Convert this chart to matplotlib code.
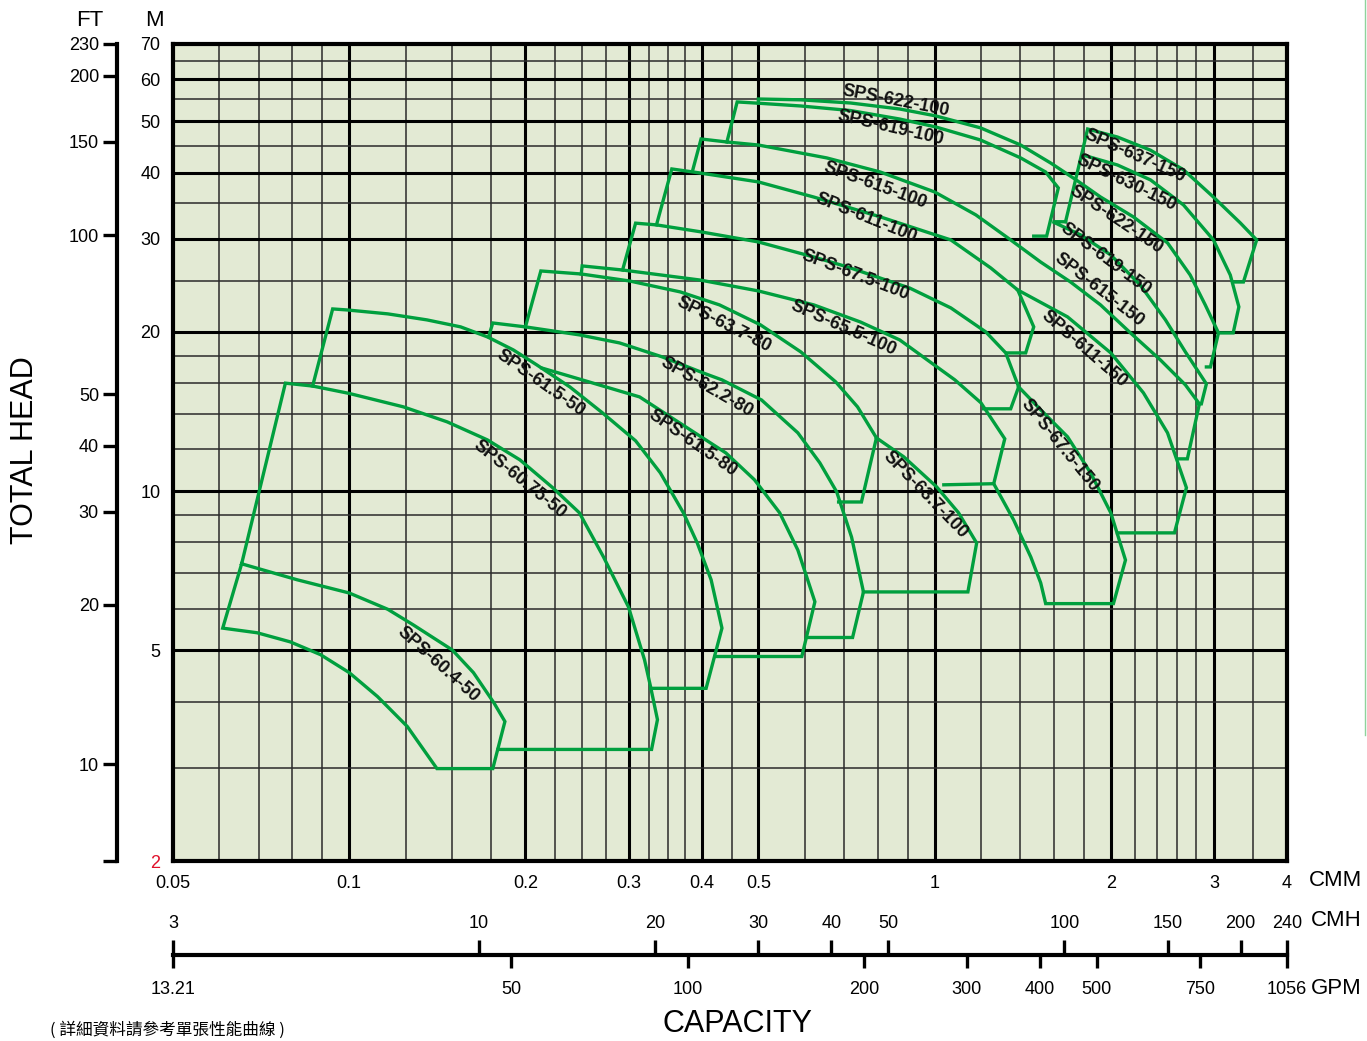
import matplotlib
matplotlib.use('Agg')
import matplotlib.pyplot as plt
from matplotlib.lines import Line2D

plt.rcParams['font.family'] = ['Liberation Sans', 'DejaVu Sans']

# --- axis scales -------------------------------------------------------
cmm_ticks = [0.05, 0.1, 0.2, 0.3, 0.4, 0.5, 1, 2, 3, 4]
cmm_labels = ['0.05', '0.1', '0.2', '0.3', '0.4', '0.5', '1', '2', '3', '4']
cmm_grid_major = [0.1, 0.2, 0.3, 0.4, 0.5, 1, 2, 3]
cmm_grid_minor = [0.06, 0.07, 0.08, 0.09, 0.125, 0.15, 0.175, 0.225, 0.25, 0.275,
                  0.325, 0.35, 0.375, 0.45, 0.6, 0.7, 0.8, 0.9, 1.2, 1.4, 1.6, 1.8,
                  2.2, 2.4, 2.6, 2.8, 3.5]
head_ticks = [2, 5, 10, 20, 30, 40, 50, 60, 70]
head_grid_major = [5, 10, 20, 30, 40, 50, 60]
head_grid_minor = [3, 4, 6, 7, 8, 9, 12, 14, 16, 18, 25, 35, 45, 55, 65]
ft_ticks = [10, 20, 30, 40, 50, 100, 150, 200]
cmh_ticks = [3, 10, 20, 30, 40, 50, 100, 150, 200, 240]
gpm_ticks = [50, 100, 200, 300, 400, 500, 750]

# --- pump outlines: capacity (CMM) and head (M) ------------------------
sps_60_4_50_q = [0.0655, 0.0815, 0.100, 0.1164, 0.1286, 0.150, 0.163, 0.1767, 0.1845,
                 0.1759, 0.1412, 0.1257, 0.1118, 0.100, 0.0893, 0.0793, 0.0696, 0.0608, 0.0655]
sps_60_4_50_h = [7.29, 6.80, 6.42, 5.98, 5.59, 5.01, 4.54, 3.98, 3.67,
                 2.99, 2.99, 3.59, 4.09, 4.54, 4.91, 5.19, 5.40, 5.51, 7.29]

sps_60_75_50_q = [0.0655, 0.0778, 0.0866, 0.100, 0.1238, 0.147, 0.1722, 0.1957, 0.2227,
                  0.2473, 0.2719, 0.300, 0.3195, 0.3272, 0.3362, 0.3285, 0.1796]
sps_60_75_50_h = [7.29, 16.0, 15.8, 15.3, 14.43, 13.52, 12.5, 11.46, 10.15,
                  9.1, 7.51, 6.04, 4.80, 4.27, 3.70, 3.25, 3.25]

sps_61_5_50_q = [0.0866, 0.0937, 0.0993, 0.1164, 0.1358, 0.155, 0.1722, 0.1907, 0.2092,
                 0.2382, 0.2708, 0.3085, 0.340, 0.3723, 0.3932, 0.4152, 0.4333, 0.4071, 0.3272]
sps_61_5_50_h = [15.8, 22.1, 22.0, 21.63, 21.07, 20.44, 19.57, 18.49, 17.32,
                 15.74, 14.06, 12.45, 10.83, 9.1, 7.98, 6.80, 5.51, 4.24, 4.24]

sps_61_5_80_q = [0.2133, 0.25, 0.3134, 0.3829, 0.44, 0.4923, 0.5438, 0.584, 0.6245, 0.5932, 0.4217]
sps_61_5_80_h = [17.09, 16.23, 15.07, 13.05, 11.81, 10.51, 9.1, 7.74, 6.18, 4.87, 4.87]

sps_62_2_80_q = [0.1730, 0.1759, 0.200, 0.2473, 0.2897, 0.3429, 0.4023, 0.4333, 0.5063,
                 0.584, 0.6368, 0.6804, 0.7214, 0.756, 0.7243, 0.605]
sps_62_2_80_h = [19.57, 20.79, 20.44, 19.74, 19.06, 17.93, 16.73, 16.23, 14.87,
                 12.89, 11.31, 9.97, 8.19, 6.45, 5.29, 5.29]

sps_63_7_80_q = [0.200, 0.2125, 0.2491, 0.3012, 0.3677, 0.4292, 0.5042, 0.5909, 0.6777,
                 0.7386, 0.7955, 0.750, 0.6856]
sps_63_7_80_h = [20.44, 26.07, 25.73, 24.96, 23.8, 22.49, 20.62, 18.33, 16.09,
                 14.43, 12.61, 9.54, 9.54]

sps_63_7_100_q = [0.7955, 0.886, 1.008, 1.099, 1.18, 1.14, 0.756]
sps_63_7_100_h = [12.61, 11.61, 10.19, 9.1, 7.98, 6.45, 6.45]

sps_65_5_100_q = [0.2491, 0.25, 0.2931, 0.3976, 0.500, 0.622, 0.747, 0.872, 1.083,
                  1.20, 1.318, 1.262, 1.037]
sps_65_5_100_h = [25.73, 26.65, 26.18, 25.06, 23.9, 22.49, 20.88, 19.31, 16.23,
                  14.69, 12.56, 10.33, 10.28]

sps_67_5_100_q = [0.2931, 0.3085, 0.3349, 0.3993, 0.500, 0.622, 0.710, 0.907, 1.066,
                  1.223, 1.323, 1.392, 1.349, 1.213]
sps_67_5_100_h = [26.18, 32.1, 31.86, 30.9, 29.58, 27.7, 26.53, 24.2, 22.2,
                  20.0, 18.25, 15.74, 14.31, 14.31]

sps_67_5_150_q = [1.392, 1.518, 1.687, 1.847, 2.0, 2.119, 2.021, 1.548, 1.518, 1.46, 1.365, 1.262]
sps_67_5_150_h = [15.74, 14.25, 12.67, 10.83, 9.1, 7.41, 6.13, 6.13, 6.71, 7.51, 8.82, 10.33]

sps_611_100_q = [0.3349, 0.3557, 0.3976, 0.500, 0.622, 0.8078, 1.066, 1.247, 1.387, 1.477, 1.431, 1.333]
sps_611_100_h = [31.86, 40.64, 39.93, 38.41, 35.96, 32.99, 29.84, 26.42, 24.0, 20.44, 18.25, 18.25]

sps_611_150_q = [1.387, 1.687, 2.0, 2.274, 2.5, 2.693, 2.569, 2.053]
sps_611_150_h = [24.0, 21.35, 18.25, 15.34, 12.89, 10.15, 8.34, 8.34]

sps_615_100_q = [0.3859, 0.3991, 0.4418, 0.500, 0.6542, 0.8078, 1.0, 1.176, 1.349, 1.518,
                 1.707, 1.921, 2.161, 2.431, 2.682, 2.834, 2.703, 2.6]
sps_615_100_h = [40.29, 46.3, 45.7, 45.1, 42.64, 40.1, 36.77, 33.28, 29.84, 27.1,
                 24.85, 22.49, 19.91, 17.7, 15.88, 14.62, 11.51, 11.51]

sps_619_100_q = [0.4418, 0.46, 0.5, 0.5909, 0.7186, 0.872, 1.004, 1.198, 1.403, 1.548, 1.627, 1.554, 1.477]
sps_619_100_h = [45.7, 54.4, 54.1, 53.45, 52.4, 50.5, 48.8, 46.1, 42.64, 40.1, 37.42, 30.34, 30.34]

sps_619_150_q = [1.674, 1.591, 1.776, 2.0, 2.247, 2.48, 2.682, 2.913, 2.856, 2.81]
sps_619_150_h = [32.3, 32.3, 30.5, 27.95, 24.5, 21.07, 18.33, 15.95, 14.62, 14.62]

sps_622_100_q = [0.5, 0.5, 0.5909, 0.7186, 0.872, 1.004, 1.198, 1.403, 1.579, 1.745, 1.921,
                 2.186, 2.5, 2.733, 2.9, 3.055, 2.96, 2.913]
sps_622_100_h = [54.1, 55.1, 54.9, 54.15, 52.75, 51.2, 48.6, 45.1, 41.7, 38.75, 35.97,
                 32.99, 29.46, 25.62, 22.49, 19.91, 17.17, 17.17]

sps_630_150_q = [1.79, 2.053, 2.338, 2.662, 2.995, 3.2, 3.31, 3.237, 3.055]
sps_630_150_h = [43.2, 41.35, 38.75, 34.75, 29.84, 25.62, 22.3, 19.91, 19.91]

sps_637_150_q = [1.674, 1.826, 2.053, 2.338, 2.662, 2.995, 3.33, 3.55, 3.37, 3.237]
sps_637_150_h = [32.3, 48.35, 46.7, 44.1, 40.5, 35.96, 32.12, 29.84, 24.85, 24.85]

outlines = [
    (sps_60_4_50_q, sps_60_4_50_h), (sps_60_75_50_q, sps_60_75_50_h),
    (sps_61_5_50_q, sps_61_5_50_h), (sps_61_5_80_q, sps_61_5_80_h),
    (sps_62_2_80_q, sps_62_2_80_h), (sps_63_7_80_q, sps_63_7_80_h),
    (sps_63_7_100_q, sps_63_7_100_h), (sps_65_5_100_q, sps_65_5_100_h),
    (sps_67_5_100_q, sps_67_5_100_h), (sps_67_5_150_q, sps_67_5_150_h),
    (sps_611_100_q, sps_611_100_h), (sps_611_150_q, sps_611_150_h),
    (sps_615_100_q, sps_615_100_h), (sps_619_100_q, sps_619_100_h),
    (sps_619_150_q, sps_619_150_h), (sps_622_100_q, sps_622_100_h),
    (sps_630_150_q, sps_630_150_h), (sps_637_150_q, sps_637_150_h),
]

# --- model names, where they sit (CMM, M) and their slant -------------
label_names = ['SPS-60.4-50', 'SPS-60.75-50', 'SPS-61.5-50', 'SPS-61.5-80', 'SPS-62.2-80',
               'SPS-63.7-80', 'SPS-65.5-100', 'SPS-67.5-100', 'SPS-611-100', 'SPS-615-100',
               'SPS-619-100', 'SPS-622-100', 'SPS-637-150', 'SPS-630-150', 'SPS-622-150',
               'SPS-619-150', 'SPS-615-150', 'SPS-611-150', 'SPS-67.5-150', 'SPS-63.7-100']
label_q = [0.1418, 0.1957, 0.2125, 0.3859, 0.4087, 0.4367, 0.6987, 0.7329, 0.765, 0.7924,
           0.842, 0.860, 2.20, 2.13, 2.04, 1.96, 1.91, 1.80, 1.634, 0.963]
label_h = [4.7, 10.51, 16.0, 12.3, 15.74, 20.62, 20.35, 25.62, 32.85, 37.9,
           48.6, 54.6, 43.0, 38.3, 32.6, 27.4, 24.0, 18.6, 12.2, 9.83]
label_rot = [-42, -39, -35, -35, -30, -27, -24, -21, -22, -20,
             -13, -11, -24, -26, -34, -37, -38, -41, -51, -46]

M_TO_FT = 1 / 0.3048
CMM_TO_CMH = 60.0
CMM_TO_GPM = 264.172

GREEN = '#009f3e'
W, H = 1367, 1041

fig = plt.figure(figsize=(W / 100, H / 100), dpi=100)

# main chart
ax = fig.add_axes([173 / W, 1 - 861 / H, 1114 / W, 817 / H])
ax.set_xscale('log')
ax.set_yscale('log')
ax.set_xlim(0.05, 4)
ax.set_ylim(2, 70)
ax.set_facecolor('#e3ead4')

for q in cmm_grid_major:
    ax.axvline(q, color='black', lw=2.2, zorder=1)
for q in cmm_grid_minor:
    ax.axvline(q, color='#2a2a2a', lw=1.1, zorder=1)
for hh in head_grid_major:
    ax.axhline(hh, color='black', lw=2.2, zorder=1)
for hh in head_grid_minor:
    ax.axhline(hh, color='#2a2a2a', lw=1.1, zorder=1)

for q, hh in outlines:
    ax.plot(q, hh, color=GREEN, lw=2.4, zorder=3, solid_joinstyle='miter')

for name, q, hh, r in zip(label_names, label_q, label_h, label_rot):
    ax.text(q, hh, name, rotation=r, rotation_mode='anchor', ha='center', va='center',
            fontsize=13, fontweight='bold', color='#111111', zorder=4)

ax.set_xticks(cmm_ticks, cmm_labels)
ax.set_xticks([], minor=True)
ax.set_yticks(head_ticks, [str(v) for v in head_ticks])
ax.set_yticks([], minor=True)
ax.tick_params(axis='both', length=0, labelsize=13)
ax.tick_params(axis='x', pad=10)
ax.tick_params(axis='y', pad=9)
ax.get_yticklabels()[0].set_color('#e0102a')
for s in ax.spines.values():
    s.set_linewidth(3)

# feet scale on the far left
ax_ft = fig.add_axes([117 / W, 1 - 861 / H, 0.001, 817 / H])
ax_ft.set_yscale('log')
ax_ft.set_ylim(2 * M_TO_FT, 70 * M_TO_FT)
ax_ft.set_facecolor('none')
for k in ['top', 'right', 'bottom']:
    ax_ft.spines[k].set_visible(False)
ax_ft.spines['left'].set_linewidth(3)
ax_ft.set_xticks([])
ax_ft.set_yticks(ft_ticks + [70 * M_TO_FT, 2 * M_TO_FT],
                 [str(v) for v in ft_ticks] + ['230', ''])
ax_ft.set_yticks([], minor=True)
ax_ft.tick_params(axis='y', direction='out', length=10, width=2.4, labelsize=13, pad=3)

# capacity scales under the chart
rect = [173 / W, 1 - 955 / H, 1114 / W, 20 / H]
ax_cmh = fig.add_axes(rect)
ax_cmh.set_xscale('log')
ax_cmh.set_xlim(0.05 * CMM_TO_CMH, 4 * CMM_TO_CMH)
ax_cmh.set_facecolor('none')
for k in ['top', 'right', 'left']:
    ax_cmh.spines[k].set_visible(False)
ax_cmh.spines['bottom'].set_linewidth(3)
ax_cmh.set_yticks([])
ax_cmh.set_xticks(cmh_ticks, [str(v) for v in cmh_ticks])
ax_cmh.set_xticks([], minor=True)
ax_cmh.tick_params(axis='x', direction='in', length=11, width=2.4, bottom=True, top=False,
                   labelbottom=False, labeltop=True, labelsize=13, pad=2)

ax_gpm = fig.add_axes(rect)
ax_gpm.set_xscale('log')
ax_gpm.set_xlim(0.05 * CMM_TO_GPM, 4 * CMM_TO_GPM)
ax_gpm.set_facecolor('none')
for s in ax_gpm.spines.values():
    s.set_visible(False)
ax_gpm.set_yticks([])
gpm_all = [0.05 * CMM_TO_GPM] + gpm_ticks + [4 * CMM_TO_GPM]
ax_gpm.set_xticks(gpm_all, ['13.21'] + [str(v) for v in gpm_ticks] + ['1056'])
ax_gpm.set_xticks([], minor=True)
ax_gpm.tick_params(axis='x', direction='out', length=9.5, width=2.4, labelsize=13, pad=9)

# titles and units
fig.text(90 / W, 1 - 20 / H, 'FT', ha='center', va='center', fontsize=16)
fig.text(154 / W, 1 - 20 / H, 'M', ha='center', va='center', fontsize=16)
fig.text(25 / W, 1 - 450 / H, 'TOTAL HEAD', rotation=90, ha='center', va='center', fontsize=22)
fig.text(738 / W, 1 - 1024 / H, 'CAPACITY', ha='center', va='center', fontsize=22)
fig.text(1336 / W, 1 - 881 / H, 'CMM', ha='center', va='center', fontsize=16)
fig.text(1336 / W, 1 - 921 / H, 'CMH', ha='center', va='center', fontsize=16)
fig.text(1336 / W, 1 - 988 / H, 'GPM', ha='center', va='center', fontsize=16)
fig.text(50 / W, 1 - 1039 / H, '( 詳細資料請參考單張性能曲線 )', ha='left', va='bottom', fontsize=12,
         family=['Noto Sans CJK TC', 'DejaVu Sans'])

fig.add_artist(Line2D([1365 / W, 1365 / W], [1, 1 - 735 / H], color='#8fd39c', lw=1))

fig.savefig('out.png', dpi=100)
